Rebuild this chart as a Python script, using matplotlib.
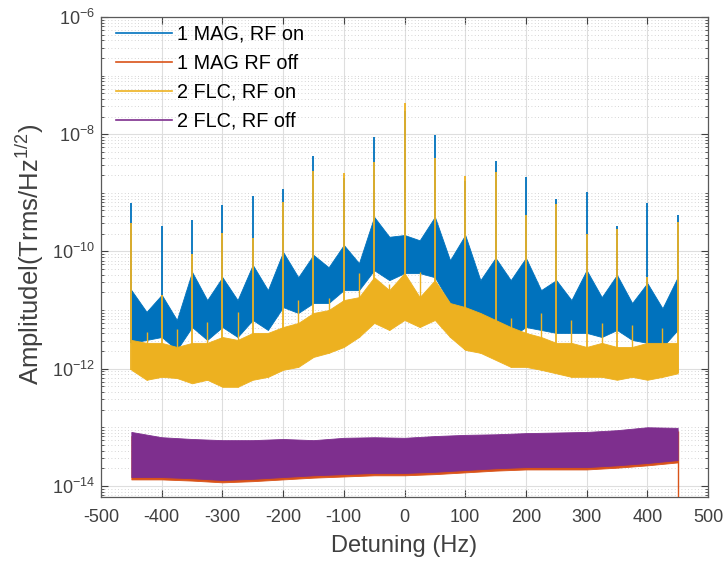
import numpy as np
import matplotlib
matplotlib.use("Agg")
import matplotlib.pyplot as plt
from matplotlib.lines import Line2D
from matplotlib.ticker import FixedLocator, LogFormatterMathtext, NullFormatter

plt.rcParams['font.family'] = ['Liberation Sans', 'DejaVu Sans']
plt.rcParams['mathtext.fontset'] = 'custom'
plt.rcParams['mathtext.rm'] = 'Liberation Sans'
plt.rcParams['mathtext.it'] = 'Liberation Sans:italic'
plt.rcParams['axes.unicode_minus'] = False

# detuning grid for the noise envelopes (Hz)
det = np.arange(-450, 451, 25)

# log10 of amplitude
mag_on_hi = [-10.66, -11.03, -10.74, -11.17, -10.35, -10.83, -10.44, -10.83, -10.23, -10.66,
             -10.01, -10.44, -10.06, -10.27, -9.89, -10.20, -9.41, -9.75, -9.72, -9.81,
             -9.41, -10.15, -9.72, -10.49, -10.11, -10.49, -10.11, -10.66, -10.49, -10.83,
             -10.32, -10.78, -10.40, -10.88, -10.54, -10.97, -10.44]
mag_on_lo = [-11.56, -11.51, -11.46, -11.68, -11.29, -11.51, -11.29, -11.46, -11.17, -11.34,
             -10.95, -11.05, -10.88, -10.88, -10.66, -10.66, -10.32, -10.49, -10.37, -10.37,
             -10.44, -10.88, -11.05, -11.17, -11.17, -11.46, -11.29, -11.34, -11.39, -11.39,
             -11.39, -11.46, -11.34, -11.51, -11.56, -11.63, -11.34]
flc_on_hi = [-11.51, -11.56, -11.56, -11.63, -11.56, -11.56, -11.46, -11.51, -11.39, -11.39,
             -11.29, -11.22, -11.05, -11.00, -10.83, -10.78, -10.44, -10.66, -10.37, -10.78,
             -10.49, -10.88, -10.95, -11.05, -11.17, -11.29, -11.39, -11.46, -11.56, -11.56,
             -11.63, -11.56, -11.63, -11.63, -11.56, -11.56, -11.56]
flc_on_lo = [-12.02, -12.19, -12.14, -12.16, -12.25, -12.19, -12.31, -12.31, -12.19, -12.14,
             -12.02, -11.97, -11.80, -11.73, -11.63, -11.46, -11.22, -11.34, -11.17, -11.29,
             -11.17, -11.46, -11.68, -11.73, -11.85, -11.97, -11.97, -12.02, -12.08, -12.14,
             -12.14, -12.14, -12.19, -12.14, -12.19, -12.14, -12.08]

# RF-off floors, coarser grid
det_off = np.arange(-450, 451, 50)
flc_off_hi = [-13.08, -13.17, -13.20, -13.22, -13.22, -13.20, -13.22, -13.18, -13.17, -13.18,
              -13.15, -13.13, -13.12, -13.10, -13.09, -13.08, -13.05, -13.00, -13.01]
flc_off_lo = [-13.85, -13.85, -13.87, -13.90, -13.88, -13.85, -13.82, -13.80, -13.78, -13.78,
              -13.76, -13.73, -13.70, -13.68, -13.68, -13.68, -13.65, -13.61, -13.56]
mag_off_hi = [-13.15, -13.22, -13.25, -13.27, -13.27, -13.25, -13.27, -13.23, -13.22, -13.23,
              -13.20, -13.18, -13.17, -13.15, -13.14, -13.13, -13.10, -13.06, -13.07]
mag_off_lo = [-13.89, -13.89, -13.91, -13.94, -13.92, -13.89, -13.86, -13.84, -13.82, -13.82,
              -13.80, -13.77, -13.74, -13.72, -13.72, -13.72, -13.69, -13.65, -13.60]

# line spikes at multiples of 50 Hz
spike_f = np.arange(-450, 451, 50)
mag_spike = [-9.17, -9.57, -9.46, -9.20, -9.05, -8.94, -8.38, -8.75, -8.04, -7.60,
             -8.01, -8.80, -8.46, -8.73, -9.11, -8.99, -9.56, -9.17, -9.38]
flc_spike = [-9.52, -10.74, -10.05, -9.69, -9.77, -9.15, -8.62, -8.66, -8.47, -7.47,
             -8.41, -8.71, -8.64, -9.38, -9.19, -9.70, -9.61, -10.43, -9.49]
# smaller FLC spikes in between
small_f = np.arange(-425, 426, 50)
flc_small = [-11.37, -11.32, -11.20, -11.03, -11.48, -10.83, -10.80, -10.37, -10.55,
             -10.35, -10.94, -11.05, -11.14, -11.05, -11.17, -11.22, -11.26, -11.30]

c_mag_on = '#0072BD'
c_mag_off = '#D95319'
c_flc_on = '#EDB120'
c_flc_off = '#7E2F8E'

fig = plt.figure(figsize=(7.24, 5.63), dpi=100)
ax = fig.add_axes([101 / 724, 66 / 563, 607 / 724, 480 / 563])

def p10(v):
    return 10.0 ** np.asarray(v)

# 1 MAG, RF on
ax.fill_between(det, p10(mag_on_lo), p10(mag_on_hi), color=c_mag_on, lw=0.6, zorder=2)
ax.vlines(spike_f, p10(np.interp(spike_f, det, mag_on_lo)), p10(mag_spike),
          color=c_mag_on, lw=1.3, zorder=2)

# 1 MAG RF off
ax.fill_between(det_off, p10(mag_off_lo), p10(mag_off_hi), color=c_mag_off, lw=0.6, zorder=3)
ax.vlines([450], [10 ** -15], [10 ** mag_off_hi[-1]], color=c_mag_off, lw=1.0, zorder=3)

# 2 FLC, RF on
ax.fill_between(det, p10(flc_on_lo), p10(flc_on_hi), color=c_flc_on, lw=0.6, zorder=4)
ax.vlines(spike_f, p10(np.interp(spike_f, det, flc_on_lo)), p10(flc_spike),
          color=c_flc_on, lw=1.3, zorder=4)
ax.vlines(small_f, p10(np.interp(small_f, det, flc_on_lo)), p10(flc_small),
          color=c_flc_on, lw=1.0, zorder=4)

# 2 FLC, RF off
ax.fill_between(det_off, p10(flc_off_lo), p10(flc_off_hi), color=c_flc_off, lw=0.6, zorder=5)

ax.set_yscale('log')
ax.set_xlim(-500, 500)
ax.set_ylim(10 ** -14.19, 1e-6)
ax.set_xticks(np.arange(-500, 501, 100))
major_y = [10.0 ** k for k in range(-14, -5, 2)]
minor_y = [m * 10.0 ** k for k in range(-15, -6) for m in range(1, 10)
           if not (m == 1 and k % 2 == 0)]
ax.yaxis.set_major_locator(FixedLocator(major_y))
ax.yaxis.set_major_formatter(LogFormatterMathtext())
ax.yaxis.set_minor_locator(FixedLocator(minor_y))
ax.yaxis.set_minor_formatter(NullFormatter())

ax.set_axisbelow(True)
ax.grid(True, which='major', color='#dedede', lw=0.8, ls='-')
ax.grid(True, which='minor', axis='y', color='#c8c8c8', lw=0.6, ls=(0, (1, 3)))

gray = '#404040'
ax.tick_params(which='both', direction='in', top=True, right=True, colors=gray,
               labelsize=13, labelcolor=gray)
ax.tick_params(which='major', length=5, width=0.8)
ax.tick_params(which='minor', length=2.5, width=0.6)
ax.tick_params(axis='x', which='major', pad=9)
ax.tick_params(axis='y', which='major', pad=4)
for s in ax.spines.values():
    s.set_color('#5a5a5a')
    s.set_linewidth(0.9)

ax.set_xlabel('Detuning (Hz)', fontsize=17, color=gray, labelpad=6)
ax.set_ylabel('Amplitudel(Trms/Hz$^{1/2}$)', fontsize=18.5, color=gray, labelpad=2)
ax.yaxis.set_label_coords(-0.09, 0.505)

handles = [Line2D([], [], color=c, lw=1.2) for c in (c_mag_on, c_mag_off, c_flc_on, c_flc_off)]
labels = ['1 MAG, RF on', '1 MAG RF off', '2 FLC, RF on', '2 FLC, RF off']
ax.legend(handles, labels, loc='upper left', frameon=False, fontsize=14.3,
          handlelength=2.8, handletextpad=0.25, labelspacing=0.5,
          bbox_to_anchor=(0.012, 1.0), borderaxespad=0.0)

fig.savefig('out.png', dpi=100)
